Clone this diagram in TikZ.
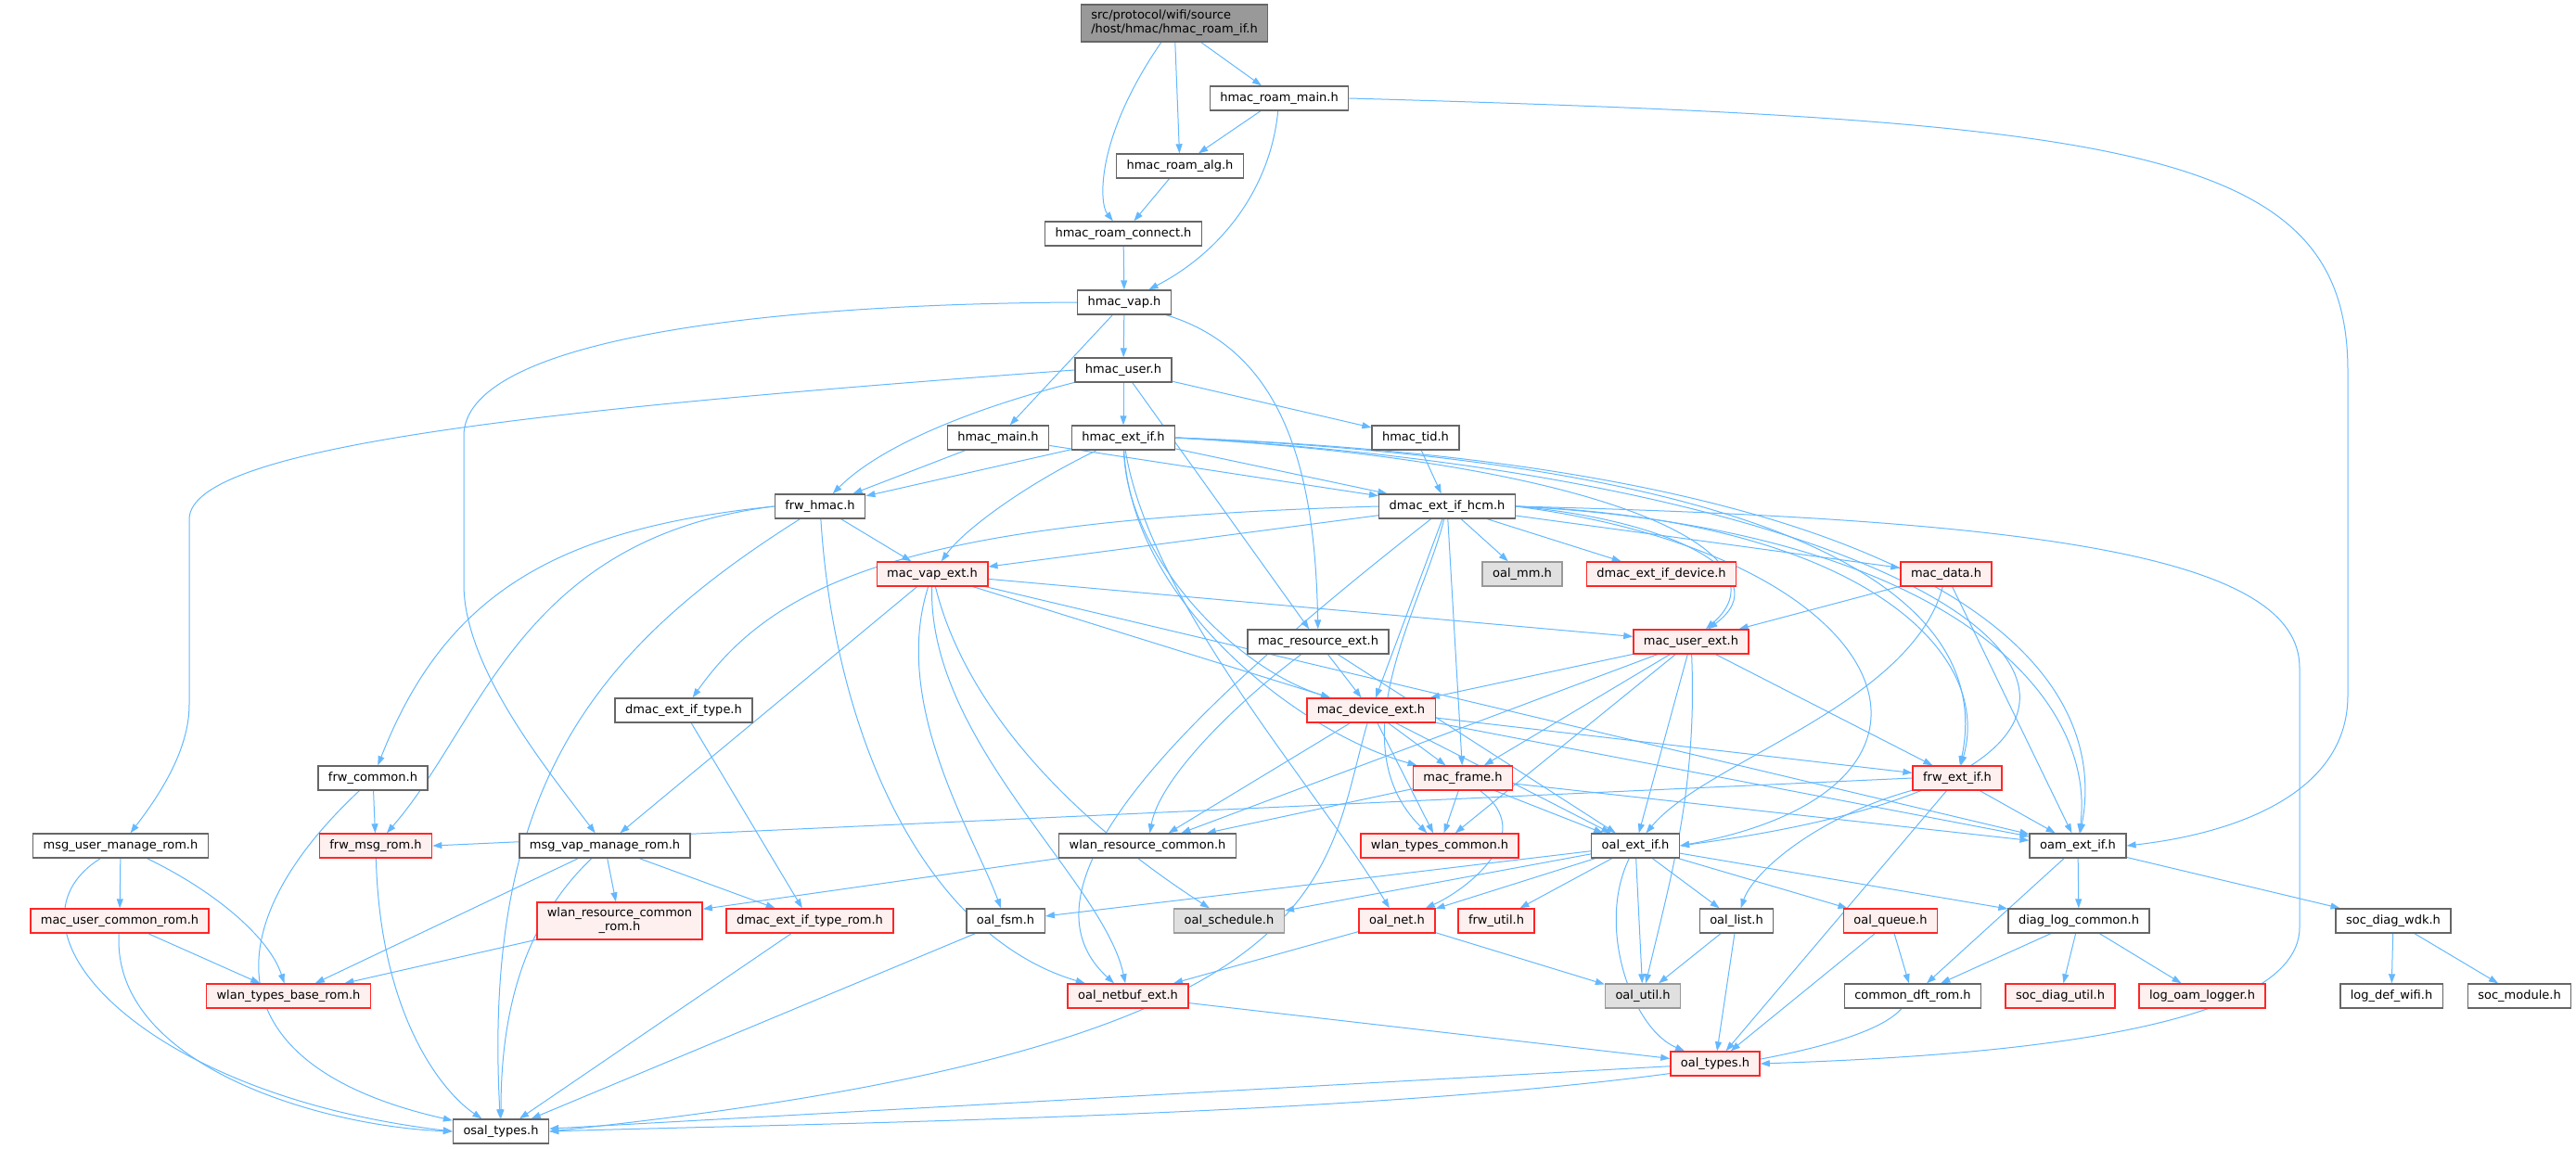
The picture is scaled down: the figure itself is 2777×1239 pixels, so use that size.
\documentclass[tikz,border=0pt]{standalone}
\usepackage{fontspec}
\setmainfont{DejaVu Sans}
\usetikzlibrary{arrows.meta, backgrounds}
\definecolor{edgeblue}{RGB}{99,184,255}
\definecolor{boxgray}{RGB}{102,102,102}
\definecolor{redfill}{RGB}{255,240,240}
\definecolor{greyfill}{RGB}{224,224,224}
\definecolor{greyline}{RGB}{153,153,153}
\tikzset{
    file/.style={
        rectangle,
        draw=boxgray,
        line width=1.4pt,
        fill=white,
        minimum height=26pt,
        inner xsep=11pt,
        inner ysep=2pt,
        align=center,
        font=\fontsize{13}{15}\selectfont
    },
    redfile/.style={
        file,
        draw=red!85!white,
        fill=redfill
    },
    greyfile/.style={
        file,
        draw=greyline,
        fill=greyfill
    },
    rootfile/.style={
        file,
        fill=greyline,
        align=left,
        minimum height=40pt
    },
    arrow/.style={
        -{Stealth[length=10pt,width=7pt,inset=0pt]},
        draw=edgeblue,
        line width=1pt
    }
}

\begin{document}
\begin{tikzpicture}[x=1pt, y=-1pt]

    \useasboundingbox (0,0) rectangle (2777,1239);

    % Root
    \node[rootfile] (root) at (1266,25) {src/protocol/wifi/source\\/host/hmac/hmac\_roam\_if.h};

    % hmac layer
    \node[file] (roammain) at (1379,106) {hmac\_roam\_main.h};
    \node[file] (roamalg) at (1272,179) {hmac\_roam\_alg.h};
    \node[file] (roamconn) at (1211,252) {hmac\_roam\_connect.h};
    \node[file] (hvap) at (1212,326) {hmac\_vap.h};
    \node[file] (huser) at (1211,399) {hmac\_user.h};
    \node[file] (hmain) at (1076,472) {hmac\_main.h};
    \node[file] (hextif) at (1211,472) {hmac\_ext\_if.h};
    \node[file] (htid) at (1526,472) {hmac\_tid.h};
    \node[file] (frwhmac) at (884,546) {frw\_hmac.h};
    \node[file] (dhcm) at (1560,546) {dmac\_ext\_if\_hcm.h};

    % mac layer
    \node[redfile] (macvap) at (1005,619) {mac\_vap\_ext.h};
    \node[greyfile] (oalmm) at (1641,619) {oal\_mm.h};
    \node[redfile] (ddevice) at (1791,619) {dmac\_ext\_if\_device.h};
    \node[redfile] (macdata) at (2098,619) {mac\_data.h};
    \node[file] (macres) at (1421,692) {mac\_resource\_ext.h};
    \node[redfile] (macuser) at (1823,692) {mac\_user\_ext.h};
    \node[file] (dtype) at (737,766) {dmac\_ext\_if\_type.h};
    \node[redfile] (macdev) at (1478,766) {mac\_device\_ext.h};
    \node[file] (frwcommon) at (402,839) {frw\_common.h};
    \node[redfile] (macframe) at (1577,839) {mac\_frame.h};
    \node[redfile] (frwextif) at (2110,839) {frw\_ext\_if.h};

    % Row of headers
    \node[file] (msguser) at (130,912) {msg\_user\_manage\_rom.h};
    \node[redfile] (frwmsg) at (405,912) {frw\_msg\_rom.h};
    \node[file] (msgvap) at (652,912) {msg\_vap\_manage\_rom.h};
    \node[file] (wlanres) at (1237,912) {wlan\_resource\_common.h};
    \node[redfile] (wlantypes) at (1552,912) {wlan\_types\_common.h};
    \node[file] (oalextif) at (1763,912) {oal\_ext\_if.h};
    \node[file] (oamextif) at (2240,912) {oam\_ext\_if.h};

    % Leaves
    \node[redfile] (macusercommon) at (129,993) {mac\_user\_common\_rom.h};
    \node[redfile, minimum height=40pt] (wlanresrom) at (668,993) {wlan\_resource\_common\\\_rom.h};
    \node[redfile] (dtyperom) at (873,993) {dmac\_ext\_if\_type\_rom.h};
    \node[file] (oalfsm) at (1084,993) {oal\_fsm.h};
    \node[greyfile] (oalsched) at (1325,993) {oal\_schedule.h};
    \node[redfile] (oalnet) at (1506,993) {oal\_net.h};
    \node[redfile] (frwutil) at (1613,993) {frw\_util.h};
    \node[file] (oallist) at (1872,993) {oal\_list.h};
    \node[redfile] (oalqueue) at (2038,993) {oal\_queue.h};
    \node[file] (diaglog) at (2241,993) {diag\_log\_common.h};
    \node[file] (socwdk) at (2580,993) {soc\_diag\_wdk.h};
    \node[redfile] (wlanbase) at (311,1074) {wlan\_types\_base\_rom.h};
    \node[redfile] (netbuf) at (1216,1074) {oal\_netbuf\_ext.h};
    \node[greyfile] (oalutil) at (1771,1074) {oal\_util.h};
    \node[file] (commondft) at (2062,1074) {common\_dft\_rom.h};
    \node[redfile] (socdiagutil) at (2221,1074) {soc\_diag\_util.h};
    \node[redfile] (logoam) at (2374,1074) {log\_oam\_logger.h};
    \node[file] (logdef) at (2578,1074) {log\_def\_wifi.h};
    \node[file] (socmodule) at (2716,1074) {soc\_module.h};
    \node[redfile] (oaltypes) at (1849,1147) {oal\_types.h};
    \node[file] (osaltypes) at (540,1220) {osal\_types.h};

    \begin{scope}[on background layer]
    % Roam arrows
    \draw[arrow] (root) -- (roammain);
    \draw[arrow] (root) -- (roamalg);
    \draw[arrow] (root) .. controls (1180,150) and (1185,220) .. (roamconn);
    \draw[arrow] (roammain) -- (roamalg);
    \draw[arrow] (roammain) .. controls (1370,200) and (1320,270) .. (hvap);
    \draw[arrow] (roammain.east) .. controls (2300,130) and (2531,160) .. (2531,400) -- (2531,750) .. controls (2531,860) and (2400,900) .. (oamextif.east);
    \draw[arrow] (roamalg) -- (roamconn);
    \draw[arrow] (roamconn) -- (hvap);

    % hmac arrows
    \draw[arrow] (hvap) -- (huser);
    \draw[arrow] (hvap) -- (hmain);
    \draw[arrow] (hvap) .. controls (1390,380) and (1418,520) .. (macres);
    \draw[arrow] (hvap.west) .. controls (800,328) and (500,370) .. (500,470) -- (500,630) .. controls (500,720) and (590,830) .. (msgvap);
    \draw[arrow] (huser) -- (hextif);
    \draw[arrow] (huser) -- (htid);
    \draw[arrow] (huser) -- (macres);
    \draw[arrow] (huser) .. controls (1050,440) and (950,480) .. (frwhmac);
    \draw[arrow] (huser.west) .. controls (600,440) and (204,480) .. (204,560) -- (204,760) .. controls (204,810) and (170,860) .. (msguser);
    \draw[arrow] (hmain) -- (frwhmac);
    \draw[arrow] (hmain) -- (dhcm);
    \draw[arrow] (hextif) -- (frwhmac);
    \draw[arrow] (hextif) -- (dhcm);
    \draw[arrow] (hextif) .. controls (1110,520) and (1040,570) .. (macvap);
    \draw[arrow] (hextif) .. controls (1215,600) and (1330,720) .. (macdev);
    \draw[arrow] (hextif) .. controls (1220,650) and (1400,790) .. (macframe);
    \draw[arrow] (hextif) .. controls (1240,650) and (1420,850) .. (oalnet);
    \draw[arrow] (hextif.east) .. controls (1750,500) and (1930,600) .. (macuser);
    \draw[arrow] (hextif.east) .. controls (1950,500) and (2150,650) .. (frwextif);
    \draw[arrow] (hextif.east) .. controls (2050,500) and (2280,700) .. (oamextif);
    \draw[arrow] (hextif.east) .. controls (2150,520) and (2500,820) .. (oalextif.east);
    \draw[arrow] (htid) -- (dhcm);

    % frw_hmac arrows
    \draw[arrow] (frwhmac) -- (macvap);
    \draw[arrow] (frwhmac.west) .. controls (600,570) and (480,640) .. (frwcommon);
    \draw[arrow] (frwhmac.west) .. controls (560,580) and (520,780) .. (frwmsg);
    \draw[arrow] (frwhmac) .. controls (640,700) and (520,850) .. (osaltypes);
    \draw[arrow] (frwhmac) .. controls (900,800) and (1000,1010) .. (netbuf);

    % dmac_ext_if_hcm arrows
    \draw[arrow] (dhcm) -- (macvap);
    \draw[arrow] (dhcm) -- (oalmm);
    \draw[arrow] (dhcm) -- (ddevice);
    \draw[arrow] (dhcm) -- (macdata);
    \draw[arrow] (dhcm) -- (macdev);
    \draw[arrow] (dhcm) -- (macframe);
    \draw[arrow] (dhcm.west) .. controls (1000,560) and (840,620) .. (dtype);
    \draw[arrow] (dhcm) .. controls (1300,750) and (1080,950) .. (netbuf);
    \draw[arrow] (dhcm) .. controls (1535,650) and (1440,800) .. (wlantypes);
    \draw[arrow] (dhcm.east) .. controls (1800,560) and (1920,620) .. (macuser);
    \draw[arrow] (dhcm.east) .. controls (2000,560) and (2150,700) .. (frwextif);
    \draw[arrow] (dhcm.east) .. controls (2100,570) and (2260,750) .. (oamextif);
    \draw[arrow] (dhcm.east) .. controls (2050,600) and (2150,850) .. (oalextif.east);
    \draw[arrow] (dhcm.east) .. controls (2200,560) and (2479,600) .. (2479,720) -- (2479,1000) .. controls (2479,1120) and (2100,1140) .. (oaltypes.east);

    % mac arrows
    \draw[arrow] (macvap) -- (macuser);
    \draw[arrow] (macvap) -- (macdev);
    \draw[arrow] (macvap) -- (msgvap);
    \draw[arrow] (macvap) -- (oamextif);
    \draw[arrow] (macvap) .. controls (960,760) and (1050,900) .. (oalfsm);
    \draw[arrow] (macvap) .. controls (1040,760) and (1150,880) .. (oalsched);
    \draw[arrow] (macvap) .. controls (1000,800) and (1190,950) .. (netbuf);
    \draw[arrow] (macdata) -- (macuser);
    \draw[arrow] (macdata) -- (oamextif);
    \draw[arrow] (macdata) .. controls (2060,760) and (1840,820) .. (oalextif);
    \draw[arrow] (macres) -- (macdev);
    \draw[arrow] (macres) -- (oalextif);
    \draw[arrow] (macres) .. controls (1330,760) and (1250,840) .. (wlanres);
    \draw[arrow] (macuser) -- (macdev);
    \draw[arrow] (macuser) -- (macframe);
    \draw[arrow] (macuser) -- (wlantypes);
    \draw[arrow] (macuser) -- (wlanres);
    \draw[arrow] (macuser) -- (oalextif);
    \draw[arrow] (macuser) -- (frwextif);
    \draw[arrow] (macuser) .. controls (1830,850) and (1800,950) .. (oalutil);
    \draw[arrow] (macdev) -- (macframe);
    \draw[arrow] (macdev) -- (wlantypes);
    \draw[arrow] (macdev) -- (wlanres);
    \draw[arrow] (macdev) -- (oalextif);
    \draw[arrow] (macdev) -- (frwextif);
    \draw[arrow] (macdev) -- (oamextif);
    \draw[arrow] (macdev) .. controls (1425,950) and (1450,1130) .. (osaltypes.east);
    \draw[arrow] (dtype) -- (dtyperom);
    \draw[arrow] (macframe) -- (wlantypes);
    \draw[arrow] (macframe) -- (wlanres);
    \draw[arrow] (macframe) -- (oalextif);
    \draw[arrow] (macframe) -- (oamextif);
    \draw[arrow] (macframe) .. controls (1660,900) and (1580,960) .. (oalnet);
    \draw[arrow] (frwextif.west) -- (frwmsg.east);
    \draw[arrow] (frwextif) -- (oamextif);
    \draw[arrow] (frwextif) -- (oaltypes);
    \draw[arrow] (frwextif) .. controls (1960,880) and (1890,940) .. (oallist);
    \draw[arrow] (frwcommon) -- (frwmsg);
    \draw[arrow] (frwcommon) .. controls (230,1000) and (230,1150) .. (osaltypes);

    % rom arrows
    \draw[arrow] (msguser) -- (macusercommon);
    \draw[arrow] (msguser) .. controls (230,960) and (290,1010) .. (wlanbase);
    \draw[arrow] (msguser) .. controls (-10,1000) and (150,1180) .. (osaltypes.west);
    \draw[arrow] (macusercommon) -- (wlanbase);
    \draw[arrow] (macusercommon) .. controls (120,1150) and (350,1215) .. (osaltypes.west);
    \draw[arrow] (frwmsg) .. controls (410,1100) and (480,1180) .. (osaltypes);
    \draw[arrow] (msgvap) -- (wlanbase);
    \draw[arrow] (msgvap) -- (wlanresrom);
    \draw[arrow] (msgvap) -- (dtyperom);
    \draw[arrow] (msgvap) .. controls (560,1000) and (540,1100) .. (osaltypes);
    \draw[arrow] (wlanres) -- (wlanresrom);
    \draw[arrow] (wlanresrom) -- (wlanbase);
    \draw[arrow] (dtyperom) -- (osaltypes);

    % oal arrows
    \draw[arrow] (oalextif) -- (oalfsm);
    \draw[arrow] (oalextif) -- (oalsched);
    \draw[arrow] (oalextif) -- (oalnet);
    \draw[arrow] (oalextif) -- (frwutil);
    \draw[arrow] (oalextif) -- (oallist);
    \draw[arrow] (oalextif) -- (oalutil);
    \draw[arrow] (oalextif) -- (oalqueue);
    \draw[arrow] (oalextif) -- (diaglog);
    \draw[arrow] (oalextif) .. controls (1720,1000) and (1760,1110) .. (oaltypes);
    \draw[arrow] (oalfsm) -- (osaltypes);
    \draw[arrow] (oalnet) -- (netbuf);
    \draw[arrow] (oalnet) -- (oalutil);
    \draw[arrow] (oallist) -- (oalutil);
    \draw[arrow] (oallist) -- (oaltypes);
    \draw[arrow] (oalqueue) -- (commondft);
    \draw[arrow] (oalqueue) -- (oaltypes);
    \draw[arrow] (netbuf) -- (oaltypes);
    \draw[arrow] (oaltypes) -- (osaltypes);

    % oam arrows
    \draw[arrow] (oamextif) -- (commondft);
    \draw[arrow] (oamextif) -- (diaglog);
    \draw[arrow] (oamextif) -- (socwdk);
    \draw[arrow] (diaglog) -- (commondft);
    \draw[arrow] (diaglog) -- (socdiagutil);
    \draw[arrow] (diaglog) -- (logoam);
    \draw[arrow] (socwdk) -- (logdef);
    \draw[arrow] (socwdk) -- (socmodule);
    \draw[arrow] (commondft) .. controls (1950,1200) and (900,1210) .. (osaltypes.east);
    \end{scope}

\end{tikzpicture}
\end{document}
